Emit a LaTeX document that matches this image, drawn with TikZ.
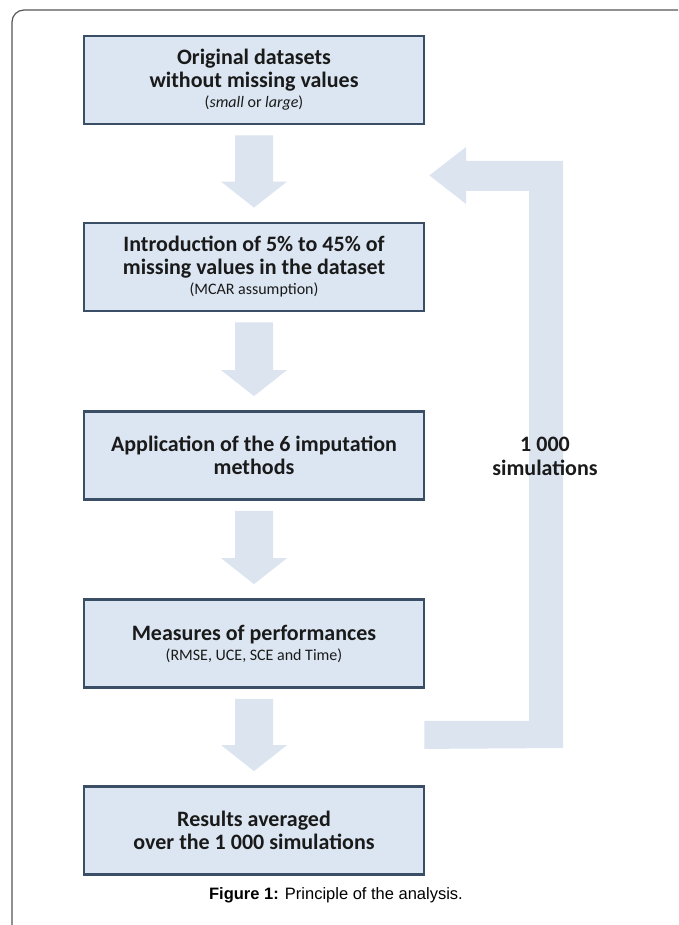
\documentclass[tikz,border=0pt]{standalone}
\usepackage{fontspec}
\setmainfont{Carlito}
\newfontfamily\capfont{Liberation Sans}
\usetikzlibrary{calc}
\definecolor{boxfill}{HTML}{DCE6F2}
\definecolor{boxline}{HTML}{3A4E66}
\definecolor{arrfill}{HTML}{DCE4F0}
\definecolor{txt}{HTML}{1A1A1A}
\definecolor{framecol}{HTML}{555555}
\tikzset{
  stepbox/.style={draw=boxline, fill=boxfill, line width=2.8pt, minimum width=340pt, minimum height=88pt,
    align=center, text=txt, font=\bfseries\fontsize{22}{23}\selectfont, inner sep=0pt},
  arrshape/.style={fill=arrfill, draw=none},
  looplabel/.style={align=center, text=txt, font=\bfseries\fontsize{22}{24}\selectfont},
  captext/.style={text=black, font=\capfont\fontsize{16.5}{18}\selectfont}
}
\newcommand{\subt}[1]{\\[-3pt]{\mdseries\fontsize{16}{19}\selectfont #1}}
\newcommand{\downarr}[2]{%
  \fill[arrshape] ($(#1.south)+(-19,10)$) -- ($(#1.south)+(19,10)$) -- ($(#2.north)+(19,-40)$)
    -- ($(#2.north)+(33,-40)$) -- ($(#2.north)+(0,-14)$) -- ($(#2.north)+(-33,-40)$)
    -- ($(#2.north)+(-19,-40)$) -- cycle;}
\begin{document}
\begin{tikzpicture}[x=1pt,y=-1pt]
\useasboundingbox (0,0) rectangle (678,925);
% frame
\draw[framecol, line width=1.2pt, rounded corners=12pt] (12,925) -- (12,10) -- (678,10);
% boxes
\node[stepbox] (b1) at (254,80) {Original datasets\\without missing values\subt{(\textit{small} or \textit{large})}};
\node[stepbox] (b2) at (254,267) {Introduction of 5\% to 45\% of\\missing values in the dataset\subt{(MCAR assumption)}};
\node[stepbox] (b3) at (254,455.5) {Application of the 6 imputation\\methods};
\node[stepbox] (b4) at (254,643.5) {Measures of performances\subt{(RMSE, UCE, SCE and Time)}};
\node[stepbox] (b5) at (254,830.5) {Results averaged\\over the 1 000 simulations};
% down arrows
\downarr{b1}{b2}
\downarr{b2}{b3}
\downarr{b3}{b4}
\downarr{b4}{b5}
% loop arrow
\coordinate (ls) at ($(b4.south east)+(-1,32)$);
\coordinate (le) at ($(b1.south east)+(4,50)$);
\fill[arrshape] (ls) -- (ls -| 529,0) -- (529,191) -- (466,191) -- (466,204) -- (le)
  -- (466,147) -- (466,161) -- (563,161) -- (563,748) -- ($(ls)+(0,28)$) -- cycle;
\node[looplabel] (lbl) at (545,456) {1 000\\simulations};
% caption
\node[captext] (cap) at (336,895) {\textbf{Figure 1:} Principle of the analysis.};
\end{tikzpicture}
\end{document}
